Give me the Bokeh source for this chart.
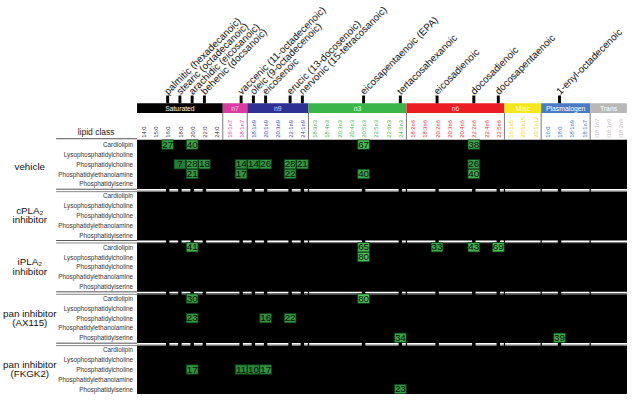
import math
from bokeh.plotting import figure
from bokeh.models import Range1d
from bokeh.core.properties import value
from bokeh.embed import file_html
from bokeh.resources import INLINE

# ---------------- data ----------------
families = ["Saturated", "n7", "n9", "n3", "n6", "Misc", "Plasmalogen", "Trans"]
saturated = ["14:0", "15:0", "16:0", "18:0", "20:0", "22:0", "24:0"]
omega7 = ["16:1n7", "18:1n7"]
omega9 = ["18:1n9", "20:1n9", "20:3n9", "22:1n9", "24:1n9"]
omega3 = ["18:3n3", "18:4n3", "20:3n3", "20:4n3", "20:5n3", "22:5n3", "22:6n3", "24:6n3"]
omega6 = ["18:2n6", "18:3n6", "20:2n6", "20:3n6", "20:4n6", "22:2n6", "22:4n6", "22:5n6"]
misc = ["16:1n5", "20:1n15", "20:1n12"]
plasmalogen = ["16:0", "18:0", "18:1n9", "18:1n7"]
trans = ["t18:1n7", "t18:1n9", "t18:2n6"]
family_members = [saturated, omega7, omega9, omega3, omega6, misc, plasmalogen, trans]

lipid_classes = ["Cardiolipin", "Lysophosphatidylcholine", "Phosphatidylcholine",
                 "Phosphatidylethanolamine", "Phosphatidylserine"]
treatments = ["vehicle", "cPLA2 inhibitor", "iPLA2 inhibitor",
              "pan inhibitor (AX115)", "pan inhibitor (FKGK2)"]
treatment_label_lines = [["vehicle"], ["cPLA\u2082", "inhibitor"], ["iPLA\u2082", "inhibitor"],
                         ["pan inhibitor", "(AX115)"], ["pan inhibitor", "(FKGK2)"]]

fatty_acid_names = ["palmitic (hexadecanoic)", "stearic (octadecanoic)", "arachidic (eicosanoic)",
                    "behenic (docsanoic)", "vaccenic (11-octadecenoic)", "oleic (9-octadecenoic)",
                    "eicosenoic", "erucic (13-docosenoic)", "nervonic (15-tetracosanoic)",
                    "eicosapentaenoic (EPA)", "tertacosahexanoic", "eicosadienoic",
                    "docosadienoic", "docosapentaenoic", "1-enyl-octadecenoic"]
fatty_acid_columns = [("Saturated", "16:0"), ("Saturated", "18:0"), ("Saturated", "20:0"),
                      ("Saturated", "22:0"), ("n7", "18:1n7"), ("n9", "18:1n9"),
                      ("n9", "20:1n9"), ("n9", "22:1n9"), ("n9", "24:1n9"),
                      ("n3", "20:5n3"), ("n3", "24:6n3"), ("n6", "20:2n6"),
                      ("n6", "22:2n6"), ("n6", "22:5n6"), ("Plasmalogen", "18:0")]

vehicle_cells = [
    ("Cardiolipin", "Saturated", "16:0", 27), ("Cardiolipin", "Saturated", "20:0", 40),
    ("Cardiolipin", "n3", "20:5n3", 67), ("Cardiolipin", "n6", "22:2n6", 38),
    ("Phosphatidylcholine", "Saturated", "18:0", 7), ("Phosphatidylcholine", "Saturated", "20:0", 28),
    ("Phosphatidylcholine", "Saturated", "22:0", 18), ("Phosphatidylcholine", "n7", "18:1n7", 14),
    ("Phosphatidylcholine", "n9", "18:1n9", 14), ("Phosphatidylcholine", "n9", "20:1n9", 26),
    ("Phosphatidylcholine", "n9", "22:1n9", 28), ("Phosphatidylcholine", "n9", "24:1n9", 21),
    ("Phosphatidylcholine", "n6", "22:2n6", 26),
    ("Phosphatidylethanolamine", "Saturated", "20:0", 21), ("Phosphatidylethanolamine", "n7", "18:1n7", 17),
    ("Phosphatidylethanolamine", "n9", "22:1n9", 22), ("Phosphatidylethanolamine", "n3", "20:5n3", 40),
    ("Phosphatidylethanolamine", "n6", "22:2n6", 40),
]
cpla2_cells = []
ipla2_cells = [
    ("Cardiolipin", "Saturated", "20:0", 41), ("Cardiolipin", "n3", "20:5n3", 65),
    ("Cardiolipin", "n6", "20:2n6", 33), ("Cardiolipin", "n6", "22:2n6", 43),
    ("Cardiolipin", "n6", "22:5n6", 69),
    ("Lysophosphatidylcholine", "n3", "20:5n3", 80),
]
ax115_cells = [
    ("Cardiolipin", "Saturated", "20:0", 30), ("Cardiolipin", "n3", "20:5n3", 80),
    ("Phosphatidylcholine", "Saturated", "20:0", 23), ("Phosphatidylcholine", "n9", "20:1n9", 16),
    ("Phosphatidylcholine", "n9", "22:1n9", 22),
    ("Phosphatidylserine", "n3", "24:6n3", 34), ("Phosphatidylserine", "Plasmalogen", "18:0", 39),
]
fkgk2_cells = [
    ("Phosphatidylcholine", "Saturated", "20:0", 17), ("Phosphatidylcholine", "n7", "18:1n7", 11),
    ("Phosphatidylcholine", "n9", "18:1n9", 10), ("Phosphatidylcholine", "n9", "20:1n9", 17),
    ("Phosphatidylserine", "n3", "24:6n3", 23),
]
treatment_cells = [vehicle_cells, cpla2_cells, ipla2_cells, ax115_cells, fkgk2_cells]

# ---------------- styles ----------------
bar_colors = ["#000000", "#d93b9e", "#2e3192", "#3ab54a", "#ec1c24", "#f4e81c", "#4a7bc2", "#b8b8b8"]
bar_text_colors = ["#ffffff", "#ffd6ee", "#d6d8ff", "#e6ffe6", "#ffd6d6", "#fffbd0", "#ffffff", "#ffffff"]
label_colors = ["#333333", "#d6399c", "#3b3f9e", "#3dae49", "#e0282e", "#e6d51c", "#3d6fb6", "#bdbdbd"]
FONT = value("Liberation Sans")
P = 5.235  # group pitch in rows

# column index lookup
col_index = {}
col_family = []
col_label = []
starts = []
c = 0
for fam, members in zip(families, family_members):
    starts.append(c)
    for m in members:
        col_index[(fam, m)] = c
        col_family.append(families.index(fam))
        col_label.append(m)
        c += 1
ncols = c
ends = starts[1:] + [ncols]


def mix(a, b, t):
    a = [int(a[i:i + 2], 16) for i in (1, 3, 5)]
    b = [int(b[i:i + 2], 16) for i in (1, 3, 5)]
    return "#%02x%02x%02x" % tuple(int(round(x + (y - x) * t)) for x, y in zip(a, b))


p = figure(width=627, height=394, x_range=Range1d(-11.15, 40.05), y_range=Range1d(25.49, -14.7),
           output_backend="svg", toolbar_location=None, min_border=0)
p.axis.visible = False
p.grid.visible = False
p.outline_line_color = None
p.background_fill_color = "white"
p.border_fill_color = "white"

# black heatmap background
p.quad(left=[0], right=[ncols + 0.5], top=[-0.5], bottom=[4 * P + 6], fill_color="black", line_color=None)

# data columns
data_cols = sorted({col_index[(f, a)] for cells in treatment_cells for (_, f, a, _) in cells})

# separators between groups
for g in range(len(treatments) - 1):
    y = g * P + 4.62
    p.segment(x0=[0], y0=[y], x1=[ncols + 0.5], y1=[y], line_color="white", line_width=1.6)
    p.segment(x0=[0], y0=[y + 0.15], x1=[ncols + 0.5], y1=[y + 0.15], line_color="#b5b5b5", line_width=0.8)
    p.quad(left=[dc + 0.36 for dc in data_cols], right=[dc + 0.64 for dc in data_cols],
           top=[y - 0.3] * len(data_cols), bottom=[y + 0.3] * len(data_cols),
           fill_color="black", line_color=None)
    p.quad(left=[s - 0.05 for s in starts[3:]], right=[s + 0.05 for s in starts[3:]],
           top=[y - 0.3] * len(starts[3:]), bottom=[y + 0.3] * len(starts[3:]),
           fill_color="black", line_color=None)

# cells
cx, cy, ct, cc = [], [], [], []
for g, cells in enumerate(treatment_cells):
    for lipid, fam, fa, v in cells:
        cx.append(col_index[(fam, fa)] + 0.5)
        cy.append(g * P + lipid_classes.index(lipid))
        ct.append(str(v))
        cc.append(mix("#1c7030", "#50c45b", math.sqrt(max(v - 5, 0) / 75.0)))
p.rect(x=cx, y=cy, width=0.96, height=0.96, fill_color=cc, line_color="#0b3a14", line_width=0.8)
p.text(x=cx, y=cy, text=ct, text_align="center", text_baseline="middle", text_font=FONT,
       text_font_size="9.8px", text_color="#061206")

# family bars
bar_top, bar_bot = -4.216, -3.235
p.quad(left=starts, right=ends, top=[bar_top] * len(starts), bottom=[bar_bot] * len(starts),
       fill_color=bar_colors, line_color=None)
p.text(x=[(s + e) / 2 for s, e in zip(starts, ends)], y=[(bar_top + bar_bot) / 2] * len(starts),
       text=families, text_align="center", text_baseline="middle", text_font=FONT,
       text_font_size="6.8px", text_color=bar_text_colors)

# header vertical separators
p.segment(x0=starts[1:], y0=[bar_bot] * (len(starts) - 1), x1=starts[1:], y1=[-0.5] * (len(starts) - 1),
          line_color="#555555", line_width=0.8)

# column labels
p.text(x=[i + 0.55 for i in range(ncols)], y=[-0.69] * ncols, text=col_label, angle=math.pi / 2,
       text_align="left", text_baseline="middle", text_font=FONT, text_font_size="5.8px",
       text_color=[label_colors[f] for f in col_family])

# fatty acid ticks and names
tick_x = [col_index[k] + 0.5 for k in fatty_acid_columns]
p.quad(left=[x - 0.12 for x in tick_x], right=[x + 0.12 for x in tick_x],
       top=[-5.0] * len(tick_x), bottom=[bar_top] * len(tick_x), fill_color="black", line_color=None)
p.text(x=[x - 0.15 for x in tick_x], y=[-5.3] * len(tick_x), text=fatty_acid_names, angle=math.pi / 4,
       text_align="left", text_baseline="alphabetic", text_font=FONT, text_font_size="9.9px",
       text_color="#111111")

# left panel
p.text(x=[-3.34], y=[-1.27], text=["lipid class"], text_align="center", text_baseline="middle",
       text_font=FONT, text_font_size="8.5px", text_color="#222222")
p.segment(x0=[-6.61], y0=[-0.6], x1=[0], y1=[-0.6], line_color="#555555", line_width=1)

rx, ry, rt = [], [], []
for g in range(len(treatments)):
    for r, lc in enumerate(lipid_classes):
        rx.append(-0.32)
        ry.append(g * P + r)
        rt.append(lc)
    p.segment(x0=[-6.61, -6.61], y0=[g * P + 4.55, g * P + 4.8], x1=[0, 0], y1=[g * P + 4.55, g * P + 4.8],
              line_color=["#555555", "#888888"], line_width=1)
p.text(x=rx, y=ry, text=rt, text_align="right", text_baseline="middle", text_font=FONT,
       text_font_size="6.4px", text_color="#333333")

gx, gy, gt = [], [], []
for g, lines in enumerate(treatment_label_lines):
    if len(lines) == 1:
        offs = [0.2]
    else:
        offs = [-0.5, 0.45]
    for line, o in zip(lines, offs):
        gx.append(-8.76)
        gy.append(g * P + 2 + o)
        gt.append(line)
p.text(x=gx, y=gy, text=gt, text_align="center", text_baseline="middle", text_font=FONT,
       text_font_size="9.8px", text_color="#111111")

open("out.html", "w").write(file_html(p, INLINE))
